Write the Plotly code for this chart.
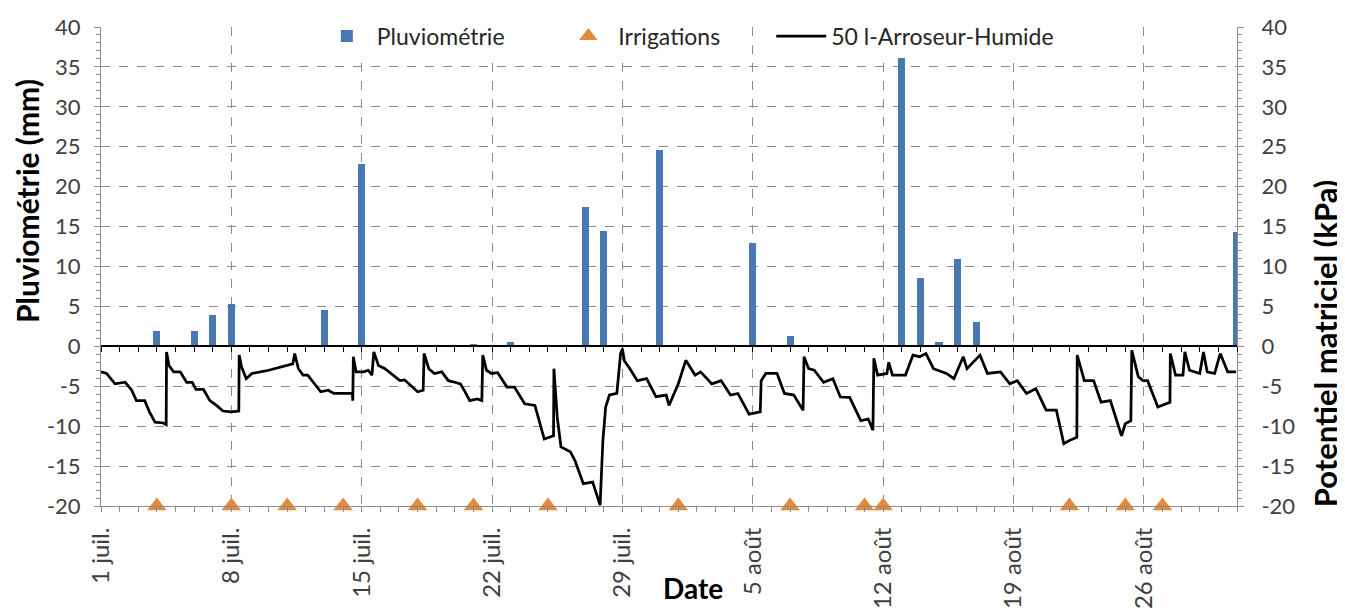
import pandas as pd
import plotly.graph_objects as go

# Plage de dates de l'axe
date_debut = "2013-07-01"
date_fin = "2013-08-31"

# Pluviométrie (mm) : jours de pluie et hauteurs
pluie_dates = ["2013-07-04", "2013-07-06", "2013-07-07", "2013-07-08", "2013-07-13",
               "2013-07-15", "2013-07-21", "2013-07-23", "2013-07-27", "2013-07-28",
               "2013-07-31", "2013-08-05", "2013-08-07", "2013-08-13", "2013-08-14",
               "2013-08-15", "2013-08-16", "2013-08-17", "2013-08-31"]
pluie_mm = [1.9, 1.9, 3.9, 5.3, 4.5,
            22.8, 0.25, 0.5, 17.5, 14.5,
            24.6, 12.9, 1.3, 36.4, 8.5,
            0.5, 10.9, 3.0, 14.3]

# Irrigations (posées sur -20)
irrigation_dates = ["2013-07-04", "2013-07-08", "2013-07-11", "2013-07-14", "2013-07-18",
                    "2013-07-21", "2013-07-25", "2013-08-01", "2013-08-07", "2013-08-11",
                    "2013-08-12", "2013-08-22", "2013-08-25", "2013-08-27"]
irrigation_niveau = -20

# Potentiel matriciel (kPa) : jours écoulés depuis le 1er juillet
pot_jours = [0.0, 0.3, 0.75, 1.3, 1.65, 1.9, 2.35, 2.6, 2.9, 3.35, 3.5, 3.52, 3.65, 3.9,
             4.25, 4.6, 4.9, 5.1, 5.5, 5.85, 6.2, 6.55, 7.0, 7.4, 7.42, 7.55, 7.8, 8.1,
             9.0, 10.1, 10.3, 10.4, 10.6, 10.85, 11.1, 11.4, 11.8, 12.2, 12.5, 13.1,
             13.5, 13.52, 13.55, 13.7, 14.1, 14.35, 14.55, 14.65, 14.9, 15.25, 15.7,
             16.05, 16.3, 16.8, 17.0, 17.3, 17.35, 17.6, 17.9, 18.3, 18.65, 19.0, 19.3,
             19.55, 19.8, 20.2, 20.45, 20.5, 20.7, 20.97, 21.3, 21.8, 22.2, 22.75, 23.3,
             23.8, 24.3, 24.32, 24.5, 24.7, 25.2, 25.45, 25.9, 26.4, 26.8, 26.95, 27.1,
             27.3, 27.7, 27.9, 28.0, 28.1, 28.4, 28.8, 29.3, 29.8, 30.35, 30.5, 31.0,
             31.4, 31.9, 32.2, 32.8, 33.3, 33.8, 34.2, 34.8, 35.4, 35.45, 35.7, 36.3,
             36.7, 37.2, 37.7, 37.75, 38.0, 38.3, 38.8, 39.3, 39.7, 40.0, 40.2, 40.8,
             41.2, 41.45, 41.5, 41.7, 42.2, 42.3, 42.5, 43.2, 43.6, 43.95, 44.3, 44.7,
             45.1, 45.4, 45.8, 46.3, 46.5, 47.2, 47.6, 48.3, 48.8, 49.2, 49.7, 50.2,
             50.75, 51.3, 51.7, 52.0, 52.4, 52.42, 52.8, 53.3, 53.7, 54.2, 54.8, 55.0,
             55.3, 55.35, 55.7, 55.95, 56.2, 56.75, 57.4, 57.42, 57.7, 58.1, 58.2, 58.45,
             59.0, 59.2, 59.4, 59.8, 60.1, 60.5, 60.95]
pot_kpa = [-3.2, -3.4, -4.7, -4.5, -5.5, -6.8, -6.8, -8.2, -9.5, -9.6, -9.8, -0.7, -2.4, -3.2,
           -3.2, -4.5, -4.5, -5.4, -5.4, -6.8, -7.4, -8.1, -8.2, -8.1, -1.1, -2.6, -4.05, -3.4,
           -3.0, -2.4, -2.2, -0.9, -2.8, -3.6, -3.6, -4.5, -5.7, -5.5, -5.9, -5.9,
           -5.9, -6.8, -1.3, -3.2, -3.2, -3.0, -3.6, -0.7, -2.4, -2.8, -3.6,
           -4.3, -4.2, -5.3, -5.7, -5.5, -0.9, -2.8, -3.4, -3.2, -4.3, -4.5, -4.7,
           -5.7, -6.8, -6.6, -6.8, -1.1, -3.0, -3.4, -3.3, -5.1, -5.1, -7.2, -7.4,
           -11.6, -11.2, -2.8, -8.9, -12.6, -13.2, -14.3, -17.2, -17.0, -19.9, -11.8, -7.6,
           -6.1, -5.9, -0.9, -0.3, -1.8, -2.8, -4.3, -4.05, -6.3, -6.1, -7.4, -4.7,
           -1.75, -3.6, -3.2, -4.7, -4.3, -6.1, -5.9, -8.5, -8.2, -4.3, -3.4, -3.4,
           -5.9, -6.1, -8.0, -1.3, -2.8, -3.0, -4.5, -4.05, -6.35, -6.35, -6.4, -9.3,
           -9.1, -10.5, -1.5, -3.6, -3.4, -2.0, -3.6, -3.6, -1.1, -1.3, -0.9, -2.8,
           -3.2, -3.4, -4.05, -1.3, -2.8, -1.1, -3.4, -3.2, -4.7, -4.3, -5.9, -5.3,
           -8.0, -8.0, -12.2, -11.8, -11.4, -1.1, -4.3, -4.3, -7.0, -6.8, -11.2, -9.7,
           -9.3, -0.5, -3.8, -4.3, -4.3, -7.6, -7.0, -0.9, -3.6, -3.6, -0.7, -3.0,
           -3.4, -0.7, -3.2, -3.4, -0.9, -3.2, -3.2]

# Graduations des axes
tick_dates = ["2013-07-01", "2013-07-08", "2013-07-15", "2013-07-22", "2013-07-29",
              "2013-08-05", "2013-08-12", "2013-08-19", "2013-08-26"]
tick_labels = ["1 juil.", "8 juil.", "15 juil.", "22 juil.", "29 juil.",
               "5 août", "12 août", "19 août", "26 août"]
y_ticks = [-20, -15, -10, -5, 0, 5, 10, 15, 20, 25, 30, 35, 40]

pot_temps = pd.Timestamp(date_debut) + pd.to_timedelta(pot_jours, unit="D")

JOUR_MS = 86400000
GRIS = "#8c8c8c"
POLICE = "Lato"

fig = go.Figure()

fig.add_trace(
    go.Bar(
        x=pluie_dates,
        y=pluie_mm,
        name="Pluviométrie",
        marker=dict(color="#4a78b2", line=dict(width=0)),
        width=0.38 * JOUR_MS,
        legend="legend",
    )
)

fig.add_trace(
    go.Scatter(
        x=irrigation_dates,
        y=[irrigation_niveau] * len(irrigation_dates),
        mode="markers",
        name="Irrigations",
        marker=dict(symbol="triangle-up", size=17, color="#e38b3c"),
        cliponaxis=False,
        legend="legend2",
    )
)

fig.add_trace(
    go.Scatter(
        x=pot_temps,
        y=pot_kpa,
        mode="lines",
        name="50 l-Arroseur-Humide",
        line=dict(color="black", width=2.75),
        xaxis="x2",
        yaxis="y2",
        legend="legend3",
    )
)

axe_y = dict(
    range=[-20, 40],
    tickmode="array",
    tickvals=y_ticks,
    ticktext=[str(v) for v in y_ticks],
    showline=True,
    linecolor=GRIS,
    linewidth=1,
    ticks="outside",
    ticklen=6,
    tickcolor=GRIS,
    minor=dict(tickmode="linear", tick0=0, dtick=1, ticks="outside", ticklen=4,
               tickcolor=GRIS, showgrid=False),
    zeroline=False,
    automargin=False,
    tickfont=dict(family=POLICE, size=22, color="#404040"),
)


def legende(x):
    return dict(
        orientation="h",
        x=x,
        xanchor="left",
        y=0.989,
        yref="container",
        yanchor="top",
        bgcolor="white",
        font=dict(family=POLICE, size=23, color="#262626"),
        itemwidth=50,
    )


# La page ajoute une marge de 8 px autour de la figure
fig.update_layout(
    width=1337,
    height=600,
    margin=dict(l=93, r=108, t=19, b=102, autoexpand=False),
    plot_bgcolor="white",
    paper_bgcolor="white",
    font=dict(family=POLICE, color="black"),
    showlegend=True,
    bargap=0,
    legend=legende(0.190),
    legend2=legende(0.4026),
    legend3=legende(0.590),
    xaxis=dict(
        type="date",
        range=[date_debut, date_fin],
        tickmode="array",
        tickvals=tick_dates,
        ticktext=tick_labels,
        tickangle=-90,
        ticks="outside",
        ticklen=5,
        tickcolor=GRIS,
        ticklabelstandoff=6,
        minor=dict(tickmode="linear", tick0=date_debut, dtick=JOUR_MS,
                   ticks="outside", ticklen=5, tickcolor=GRIS, showgrid=False),
        showline=True,
        linecolor=GRIS,
        showgrid=True,
        gridcolor=GRIS,
        griddash="dash",
        gridwidth=1,
        automargin=False,
        tickfont=dict(family=POLICE, size=24, color="#404040"),
    ),
    xaxis2=dict(
        type="date",
        overlaying="x",
        anchor="free",
        position=1 / 3,
        range=[date_debut, date_fin],
        tickmode="linear",
        tick0=date_debut,
        dtick=JOUR_MS,
        ticks="outside",
        ticklen=5,
        tickcolor="black",
        showticklabels=False,
        showline=True,
        linecolor="black",
        linewidth=1.5,
        showgrid=False,
        automargin=False,
    ),
    yaxis=dict(
        **axe_y,
        showgrid=True,
        gridcolor=GRIS,
        griddash="dash",
        ticklabelstandoff=9,
    ),
    yaxis2=dict(
        **axe_y,
        overlaying="y",
        side="right",
        anchor="x",
        showgrid=False,
        ticklabelstandoff=13,
    ),
    annotations=[
        dict(
            text="<b>Pluviométrie (mm)</b>",
            xref="paper", yref="paper",
            x=-0.065, y=0.637,
            xanchor="center", yanchor="middle",
            textangle=-90,
            showarrow=False,
            font=dict(family=POLICE, size=30, color="black"),
        ),
        dict(
            text="<b>Potentiel matriciel (kPa)</b>",
            xref="paper", yref="paper",
            x=1.0775, y=0.338,
            xanchor="center", yanchor="middle",
            textangle=-90,
            showarrow=False,
            font=dict(family=POLICE, size=31, color="black"),
        ),
        dict(
            text="<b>Date</b>",
            xref="paper", yref="paper",
            x=0.521, y=-0.171,
            xanchor="center", yanchor="middle",
            showarrow=False,
            font=dict(family=POLICE, size=28, color="black"),
        ),
    ],
)

fig.write_html("out.html")
